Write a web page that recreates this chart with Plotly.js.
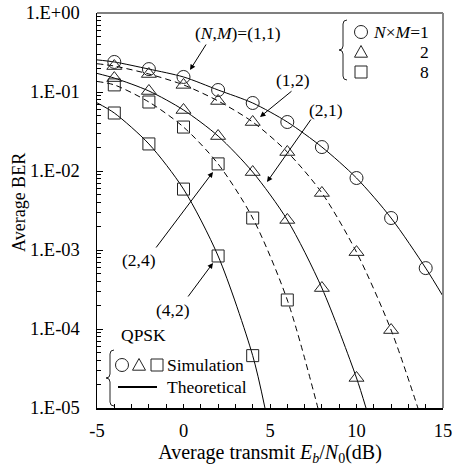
<!DOCTYPE html>
<html>
<head>
<meta charset="utf-8">
<script src="https://cdn.plot.ly/plotly-3.0.1.min.js"></script>
<style>html,body{margin:0;padding:0;background:#fff;}#chart{width:453px;height:466px;}</style>
</head>
<body>
<div id="chart"></div>
<script>
// ---- data ----
const simX = [-4, -2, 0, 2, 4, 6, 8, 10, 12, 14];

// (N,M)=(1,1), N×M=1  (circles, solid)
const sim11 = [0.24, 0.195, 0.155, 0.106, 0.0726, 0.0417, 0.0201, 0.00815, 0.00254, 5.9e-4];
const thX11 = [-5, -4, -2, 0, 2, 4, 6, 8, 10, 12, 14, 15];
const th11  = [0.255, 0.24, 0.195, 0.155, 0.106, 0.0726, 0.0417, 0.0201, 0.00815, 0.00254, 5.9e-4, 2.6e-4];

// (1,2), N×M=2 (triangles, dashed)
const simX12 = [-4, -2, 0, 2, 4, 6, 8, 10, 12];
const sim12  = [0.213, 0.169, 0.123, 0.077, 0.0417, 0.0174, 0.00527, 9.4e-4, 9.7e-5];
const thX12  = [-5, -4, -2, 0, 2, 4, 6, 8, 10, 12, 13.55];
const th12   = [0.228, 0.213, 0.169, 0.123, 0.077, 0.0417, 0.0174, 0.00527, 9.4e-4, 9.7e-5, 1e-5];

// (2,1), N×M=2 (triangles, solid)
const simX21 = [-4, -2, 0, 2, 4, 6, 8, 10];
const sim21  = [0.150, 0.103, 0.0592, 0.0277, 0.0097, 0.0024, 3.3e-4, 2.4e-5];
const thX21  = [-5, -4, -2, 0, 2, 4, 6, 8, 10, 10.55];
const th21   = [0.172, 0.150, 0.103, 0.0592, 0.0277, 0.0097, 0.0024, 3.3e-4, 2.4e-5, 1e-5];

// (2,4), N×M=8 (squares, dashed)
const simX24 = [-4, -2, 0, 2, 4, 6];
const sim24  = [0.123, 0.0747, 0.036, 0.0123, 0.00254, 2.33e-4];
const thX24  = [-5, -4, -2, 0, 2, 4, 6, 7.77];
const th24   = [0.136, 0.123, 0.0747, 0.036, 0.0123, 0.00254, 2.33e-4, 1e-5];

// (4,2), N×M=8 (squares, solid)
const simX42 = [-4, -2, 0, 2, 4];
const sim42  = [0.0542, 0.022, 0.0059, 8.4e-4, 4.6e-5];
const thX42  = [-5, -4, -2, 0, 2, 4, 4.71];
const th42   = [0.073, 0.0542, 0.022, 0.0059, 8.4e-4, 4.6e-5, 1e-5];

const xTicks = [-5, 0, 5, 10, 15];
const yTicks = [1, 0.1, 0.01, 0.001, 1e-4, 1e-5];
const yTickText = ['1.E+00', '1.E-01', '1.E-02', '1.E-03', '1.E-04', '1.E-05'];

// ---- layout helpers ----
const FONT = 'Liberation Serif, Times New Roman, serif';
const L = 97, R = 443, T = 13, B = 408;
const px = v => (v - L) / (R - L);
const py = v => (B - v) / (B - T);

function theory(x, y, dash) {
  return {x: x, y: y, type: 'scatter', mode: 'lines', showlegend: false, hoverinfo: 'skip',
          line: {color: '#000', width: 1, dash: dash, shape: 'spline', smoothing: 0.8}};
}
function sim(x, y, sym, size) {
  return {x: x, y: y, type: 'scatter', mode: 'markers', showlegend: false,
          marker: {symbol: sym, size: size, color: 'rgba(255,255,255,0)', line: {color: '#222', width: 1}}};
}

const traces = [
  theory(thX11, th11, 'solid'),
  theory(thX12, th12, '6px,4px'),
  theory(thX21, th21, 'solid'),
  theory(thX24, th24, '6px,4px'),
  theory(thX42, th42, 'solid'),
  sim(simX, sim11, 'circle', 13),
  sim(simX12, sim12, 'triangle-up', 13),
  sim(simX21, sim21, 'triangle-up', 13),
  sim(simX24, sim24, 'square', 12),
  sim(simX42, sim42, 'square', 12)
];

function txt(text, x, y, opts) {
  return Object.assign({text: text, xref: 'paper', yref: 'paper', x: px(x), y: py(y),
    xanchor: 'center', yanchor: 'middle', showarrow: false,
    font: {family: FONT, size: 17.5, color: '#000'}}, opts || {});
}
function arrow(hx, hy, tx, ty) {
  return {text: '', xref: 'paper', yref: 'paper', x: px(hx), y: py(hy),
    ax: tx - hx, ay: ty - hy, showarrow: true, arrowhead: 2, arrowsize: 1.1,
    arrowwidth: 1, arrowcolor: '#000'};
}

const annotations = [
  txt('(<i>N</i>,<i>M</i>)=(1,1)', 238, 33),
  txt('(1,2)', 293, 80),
  txt('(2,1)', 326, 110),
  txt('(2,4)', 139, 260),
  txt('(4,2)', 173, 310),
  txt('QPSK', 143, 335),
  arrow(190, 70, 207, 43),
  arrow(260, 117, 293, 90),
  arrow(267, 182, 312, 118),
  arrow(213, 172, 155, 249),
  arrow(213, 263, 187, 298),
  // y-axis title
  txt('Average BER', 19, 203, {textangle: -90, font: {family: FONT, size: 18, color: '#000'}}),
  // top-right legend
  txt('<i>N</i>×<i>M</i>=1', 431, 32, {xanchor: 'right'}),
  txt('2', 431, 52, {xanchor: 'right'}),
  txt('8', 431, 72, {xanchor: 'right'}),
  // bottom-left legend
  txt('Simulation', 165, 365, {xanchor: 'left'}),
  txt('Theoretical', 165, 387, {xanchor: 'left'})
];

function brace(x, top, bot) {
  const m = (top + bot) / 2, w = 4;
  const P = (a, b) => px(a) + ',' + py(b);
  return 'M' + P(x + w, top) + ' Q' + P(x, top) + ' ' + P(x, top + 4) +
         ' L' + P(x, m - 4) + ' Q' + P(x, m) + ' ' + P(x - w, m) +
         ' Q' + P(x, m) + ' ' + P(x, m + 4) +
         ' L' + P(x, bot - 4) + ' Q' + P(x, bot) + ' ' + P(x + w, bot);
}
function circ(cx, cy, r) {
  return {type: 'circle', xref: 'paper', yref: 'paper', x0: px(cx - r), x1: px(cx + r),
          y0: py(cy + r), y1: py(cy - r), line: {color: '#222', width: 1}};
}
function tri(cx, cy, r) {
  const P = (a, b) => px(a) + ',' + py(b);
  return {type: 'path', xref: 'paper', yref: 'paper',
          path: 'M' + P(cx, cy - r) + ' L' + P(cx + r, cy + r * 0.8) + ' L' + P(cx - r, cy + r * 0.8) + ' Z',
          line: {color: '#222', width: 1}};
}
function sq(cx, cy, r) {
  return {type: 'rect', xref: 'paper', yref: 'paper', x0: px(cx - r), x1: px(cx + r),
          y0: py(cy + r), y1: py(cy - r), line: {color: '#222', width: 1}};
}

const shapes = [
  {type: 'line', xref: 'paper', yref: 'paper', x0: 0, x1: 1, y0: 1, y1: 1, line: {color: '#555', width: 1.5}},
  {type: 'line', xref: 'paper', yref: 'paper', x0: 1, x1: 1, y0: 0, y1: 1, line: {color: '#888', width: 2}},
  {type: 'path', xref: 'paper', yref: 'paper', path: brace(343, 20, 80), line: {color: '#222', width: 1}},
  {type: 'path', xref: 'paper', yref: 'paper', path: brace(110, 350, 406), line: {color: '#222', width: 1}},
  circ(361, 32, 6.5), tri(361, 52, 6.5), sq(361, 72, 6),
  circ(122, 365, 6.5), tri(139, 365, 6.5), sq(157, 365, 6),
  {type: 'line', xref: 'paper', yref: 'paper', x0: px(118), x1: px(157), y0: py(387), y1: py(387), line: {color: '#000', width: 2}}
];

const layout = {
  width: 453, height: 466,
  margin: {l: L, r: 453 - R, t: T, b: 466 - B, pad: 0},
  paper_bgcolor: '#fff', plot_bgcolor: '#fff',
  font: {family: FONT, size: 17, color: '#000'},
  showlegend: false,
  xaxis: {
    range: [-5, 15], tickmode: 'array', tickvals: xTicks, ticktext: xTicks.map(String),
    ticks: 'inside', ticklen: 4, tickwidth: 1, tickcolor: '#000',
    showline: true, linecolor: '#000', linewidth: 1.5, showgrid: false, zeroline: false,
    minor: {tick0: -5, dtick: 1, ticks: 'inside', ticklen: 4, tickwidth: 1, tickcolor: '#000', showgrid: false},
    tickfont: {family: FONT, size: 18.5}, ticklabelstandoff: 5,
    title: {text: 'Average transmit <i>E</i><sub><i>b</i></sub>/<i>N</i><sub>0</sub>(dB)',
            font: {family: FONT, size: 20}, standoff: 0}
  },
  yaxis: {
    type: 'log', range: [-5, 0], tickmode: 'array', tickvals: yTicks, ticktext: yTickText,
    ticks: 'inside', ticklen: 6, tickwidth: 1, tickcolor: '#000',
    showline: true, linecolor: '#000', linewidth: 1.5, showgrid: false, zeroline: false,
    minor: {dtick: 'D1', ticks: 'inside', ticklen: 4, tickwidth: 1, tickcolor: '#000', showgrid: false},
    tickfont: {family: FONT, size: 18.5}, ticklabelstandoff: 12
  },
  annotations: annotations,
  shapes: shapes
};

Plotly.newPlot('chart', traces, layout, {staticPlot: true, displayModeBar: false});
</script>
</body>
</html>
